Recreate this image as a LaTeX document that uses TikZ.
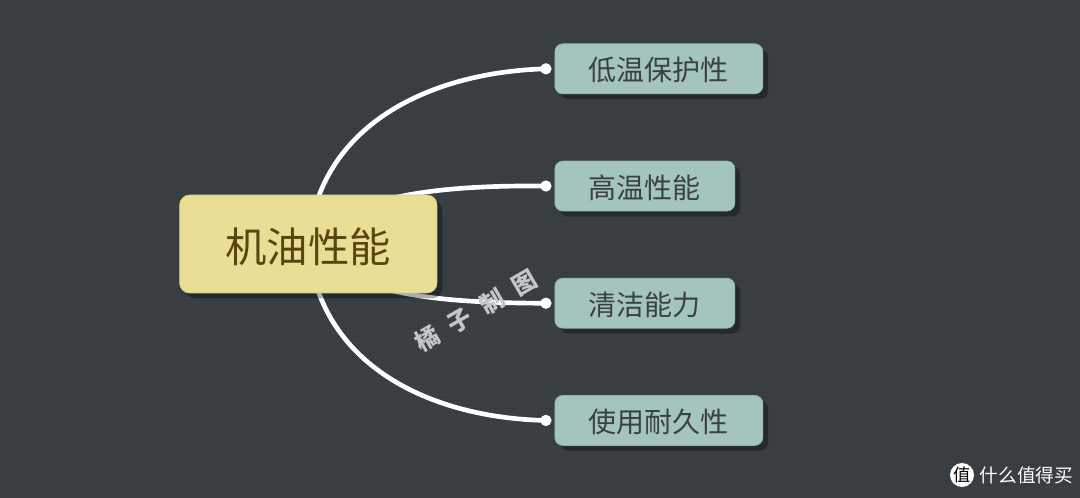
\documentclass[tikz,border=0pt]{standalone}
\usepackage{fontspec}
\setmainfont{Noto Sans CJK SC}
\usepackage{tikz}
\usetikzlibrary{positioning, shadows, backgrounds}
\definecolor{board}{HTML}{393F42}
\definecolor{boarddot}{HTML}{32383B}
\definecolor{rootfill}{HTML}{E8DE95}
\definecolor{rootink}{HTML}{574610}
\definecolor{leaffill}{HTML}{A3C5BD}
\definecolor{leafink}{HTML}{3B4143}
\tikzset{
	x = .75pt,
	y = -.75pt,
	root/.style={
		draw=rootfill!90!black,
		line width=.5pt,
		fill=rootfill,
		text=rootink,
		rounded corners=7.5pt,
		minimum width=193pt,
		minimum height=73.5pt,
		text height=30pt,
		font=\fontsize{31}{31}\selectfont,
		drop shadow={shadow xshift=4pt, shadow yshift=-4pt, fill=black, opacity=.32}
	},
	leaf/.style={
		draw=leaffill!90!black,
		line width=.5pt,
		fill=leaffill,
		text=leafink,
		rounded corners=6pt,
		anchor=north west,
		minimum height=37.5pt,
		text height=20pt,
		inner xsep=0pt,
		font=\fontsize{21}{21}\selectfont,
		drop shadow={shadow xshift=4pt, shadow yshift=-4pt, fill=black, opacity=.32}
	},
	tip/.style={
		fill=white,
		circle,
		inner sep=0pt,
		minimum size=8.5pt
	},
	edge/.style={
		white,
		line width=3.5pt
	},
	mark text/.style={
		text=white!70!board,
		rotate=30,
		font=\fontsize{18}{18}\selectfont\bfseries
	}
}
\begin{document}
\begin{tikzpicture}
	\useasboundingbox (0,0) rectangle (1080,498);

	\node[root] (oil) at (308.3,244) {机油性能};

	\node[leaf, minimum width=156pt] (cold) at (554.5,43.5) {低温保护性};
	\node[leaf, minimum width=135pt, below = 49.9pt of cold.south west, anchor=north west] (hot) {高温性能};
	\node[leaf, minimum width=135pt, below = 49.9pt of hot.south west, anchor=north west] (clean) {清洁能力};
	\node[leaf, minimum width=156pt, below = 49.9pt of clean.south west, anchor=north west] (life) {使用耐久性};

	\node[tip, left = 2pt of cold.west] (a) {};
	\node[tip, left = 2pt of hot.west] (b) {};
	\node[tip, left = 2pt of clean.west] (c) {};
	\node[tip, left = 2pt of life.west] (d) {};

	\begin{scope}[on background layer]
		\fill[board] (0,0) rectangle (1080,498);
		\foreach \i in {0,...,270}
			\draw[boarddot, line width=.8pt, dash pattern=on .8pt off 2.2pt] (4*\i+2,0) -- (4*\i+2,498);
		\draw[edge] (oil.center) .. controls (318,125) and (430,72) .. (a.center);
		\draw[edge] (oil.center) .. controls (345,195) and (440,185) .. (b.center);
		\draw[edge] (oil.center) .. controls (345,295) and (440,303) .. (c.center);
		\draw[edge] (oil.center) .. controls (318,365) and (430,418) .. (d.center);
	\end{scope}

	\node[mark text] (mark) at (476,311) {橘\hspace{10pt}子\hspace{10pt}制\hspace{10pt}图};

	\node[fill=white, text=black, circle, inner sep=0pt, minimum size=18pt, font=\fontsize{13}{13}\selectfont] (logo) at (962,475) {值};
	\node[text=white, right = 4pt of logo, font=\fontsize{14}{14}\selectfont, inner sep=0pt] (brand) {什么值得买};
\end{tikzpicture}
\end{document}
